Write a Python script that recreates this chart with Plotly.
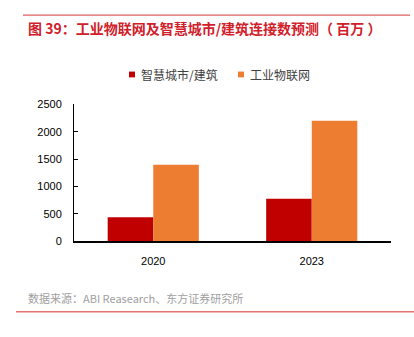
import plotly.graph_objects as go

categories = ["2020", "2023"]
smart_city = [440, 775]
iiot = [1400, 2200]
series_names = ["智慧城市/建筑", "工业物联网"]
series_colors = ["#C00000", "#ED7D31"]
y_ticks = [0, 500, 1000, 1500, 2000, 2500]

W, H = 414, 337
def px(x):
    return x / W
def py(y):
    return (H - y) / H

fig = go.Figure()
fig.add_bar(x=categories, y=smart_city, name=series_names[0],
            marker=dict(color=series_colors[0], line=dict(width=0)), showlegend=False)
fig.add_bar(x=categories, y=iiot, name=series_names[1],
            marker=dict(color=series_colors[1], line=dict(width=0)), showlegend=False)

fig.update_layout(
    width=W, height=H,
    margin=dict(l=0, r=0, t=0, b=0),
    paper_bgcolor="white", plot_bgcolor="white",
    barmode="group", bargap=0.425, bargroupgap=0,
    font=dict(family="Noto Sans CJK SC", size=11, color="#333333"),
    xaxis=dict(domain=[px(74), px(391)], showline=True, linecolor="#000000", linewidth=1.5,
               ticks="", showgrid=False, zeroline=False,
               tickfont=dict(family="Liberation Sans", size=11, color="#000000"),
               ticklabelstandoff=9),
    yaxis=dict(domain=[py(244), py(102)], range=[0, 2500], tickvals=y_ticks,
               showline=True, linecolor="#000000", linewidth=1,
               ticks="inside", ticklen=4, tickcolor="#000000",
               showgrid=False, zeroline=False,
               tickfont=dict(family="Liberation Sans", size=11, color="#000000"),
               ticklabelstandoff=9),
)

# legend (manual, to match reference spacing)
legend_x = [129, 238]
for lx, name, col in zip(legend_x, series_names, series_colors):
    fig.add_shape(type="rect", xref="paper", yref="paper",
                  x0=px(lx), x1=px(lx + 6), y0=py(74), y1=py(68),
                  fillcolor=col, line=dict(width=0))
    fig.add_annotation(xref="paper", yref="paper", x=px(lx + 10), y=py(71),
                       xanchor="left", yanchor="middle", text=name, showarrow=False,
                       font=dict(family="Noto Sans CJK SC", size=12, color="#404040"))

fig.add_shape(type="line", xref="paper", yref="paper", x0=px(23), x1=px(410),
              y0=py(9.5), y1=py(9.5), line=dict(color="#E06060", width=1.2))
fig.add_shape(type="line", xref="paper", yref="paper", x0=px(16), x1=1,
              y0=py(317), y1=py(317), line=dict(color="#E57373", width=1.5))

fig.add_annotation(xref="paper", yref="paper", x=px(26), y=py(23), xanchor="left", yanchor="middle",
                   text="<b>图 39：工业物联网及智慧城市/建筑连接数预测（ 百万 ）</b>", showarrow=False,
                   font=dict(family="Noto Sans CJK SC", size=14, color="#D0202A"))
fig.add_annotation(xref="paper", yref="paper", x=px(26), y=py(303), xanchor="left", yanchor="middle",
                   text="数据来源：ABI Reasearch、东方证券研究所", showarrow=False,
                   font=dict(family="Noto Sans CJK SC", size=11, color="#A0A0A0"))

fig.write_html("out.html")
